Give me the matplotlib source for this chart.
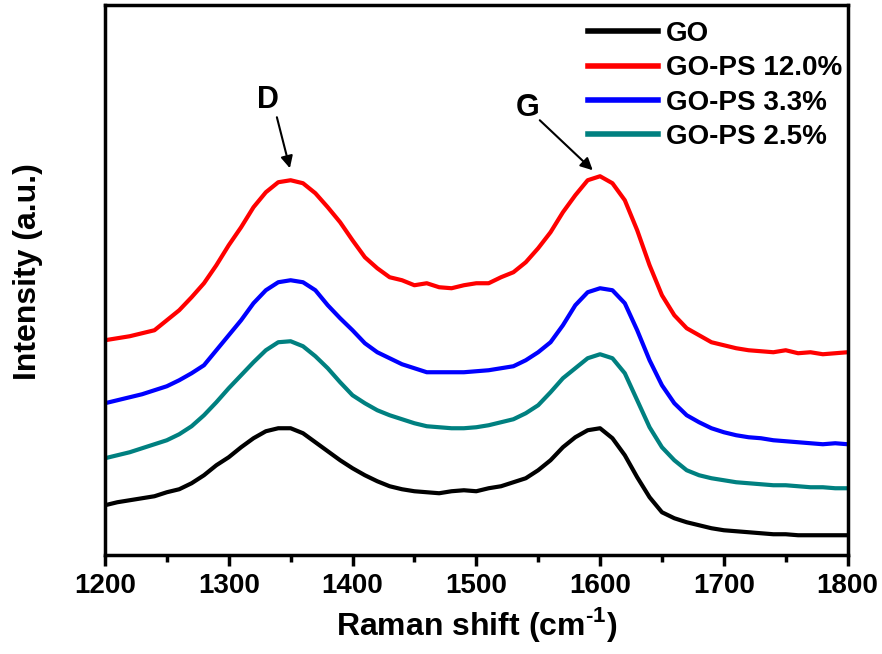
import numpy as np
import matplotlib
matplotlib.use('Agg')
from matplotlib import pyplot as plt

plt.rcParams['font.family'] = ['Liberation Sans', 'DejaVu Sans']
plt.rcParams['font.weight'] = 'bold'
plt.rcParams['mathtext.fontset'] = 'custom'
plt.rcParams['mathtext.bf'] = 'Liberation Sans:bold'
plt.rcParams['mathtext.rm'] = 'Liberation Sans:bold'

# Raman shift (cm^-1), one point every 10
shift = np.arange(1200, 1801, 10)

# intensities (arbitrary units, stacked)
go = [50, 53, 55, 57, 59, 63, 66, 72, 80, 90,
      98, 108, 117, 124, 127, 127, 122, 113, 104, 95,
      87, 80, 74, 69, 66, 64, 63, 62, 64, 65,
      64, 67, 69, 73, 77, 85, 95, 108, 118, 125,
      127, 117, 100, 78, 58, 43, 37, 33, 30, 27,
      25, 24, 23, 22, 21, 21, 20, 20, 20, 20, 20]
go_ps_12 = [215, 217, 219, 222, 225, 235, 245, 258, 272, 290,
            310, 328, 348, 363, 373, 375, 372, 362, 348, 333,
            315, 298, 287, 278, 275, 270, 272, 268, 267, 270,
            272, 272, 278, 283, 293, 307, 323, 343, 360, 375,
            379, 372, 355, 325, 290, 260, 240, 227, 220, 213,
            210, 207, 205, 204, 203, 205, 202, 203, 201, 202, 203]
go_ps_33 = [152, 155, 158, 161, 165, 169, 175, 182, 190, 205,
            220, 235, 252, 265, 273, 275, 273, 265, 250, 237,
            225, 212, 203, 197, 191, 187, 183, 183, 183, 183,
            184, 185, 187, 189, 195, 203, 213, 230, 250, 263,
            267, 265, 252, 225, 195, 170, 152, 140, 133, 127,
            123, 120, 118, 117, 115, 114, 113, 112, 111, 112, 111]
go_ps_25 = [97, 100, 103, 107, 111, 115, 121, 129, 140, 153,
            167, 180, 193, 205, 213, 214, 209, 199, 187, 173,
            160, 152, 145, 140, 136, 132, 129, 128, 127, 127,
            128, 130, 133, 136, 142, 150, 163, 177, 187, 197,
            201, 197, 182, 155, 128, 108, 95, 85, 80, 77,
            75, 73, 72, 71, 70, 70, 69, 68, 68, 67, 67]

labels = ['GO', 'GO-PS 12.0%', 'GO-PS 3.3%', 'GO-PS 2.5%']
colors = ['black', '#ff0000', '#0000ff', '#008080']
series = [go, go_ps_12, go_ps_33, go_ps_25]

fig = plt.figure(figsize=(8.82, 6.54), dpi=100)
ax = fig.add_axes([0.119, 0.151, 0.842, 0.841])

for ys, col, lab in zip(series, colors, labels):
    ax.plot(shift, ys, color=col, lw=3, label=lab)

ax.set_xlim(1200, 1800)
ax.set_ylim(0, 550)
ax.set_yticks([])
ax.set_xticks(np.arange(1200, 1801, 100))
ax.set_xticks(np.arange(1250, 1800, 100), minor=True)
ax.tick_params(axis='x', which='major', direction='out', length=8, width=2.5,
               labelsize=20, pad=5)
ax.tick_params(axis='x', which='minor', direction='out', length=5, width=2.5)
for sp in ax.spines.values():
    sp.set_linewidth(2.5)

ax.set_xlabel('Raman shift (cm$^{\\text{-}1}$)', fontsize=23, fontweight='bold', labelpad=4)
ax.set_ylabel('Intensity (a.u.)', fontsize=23, fontweight='bold')
ax.yaxis.set_label_coords(-0.084, 0.516)

# peak markers
ax.text(1331.6, 440, 'D', fontsize=22, fontweight='bold', ha='center', va='bottom')
ax.annotate('', xy=(1349.4, 387), xytext=(1338.9, 438),
            arrowprops=dict(arrowstyle='-|>', lw=1.5, color='black', mutation_scale=18,
                            shrinkA=0, shrinkB=0))
ax.text(1541.6, 432, 'G', fontsize=22, fontweight='bold', ha='center', va='bottom')
ax.annotate('', xy=(1594.1, 385), xytext=(1551.3, 435),
            arrowprops=dict(arrowstyle='-|>', lw=1.5, color='black', mutation_scale=18,
                            shrinkA=0, shrinkB=0))

leg = fig.legend(loc='upper left', bbox_to_anchor=(0.667, 0.968), frameon=False,
                 fontsize=20, handlelength=2.5, handletextpad=0.3, borderpad=0,
                 borderaxespad=0, labelspacing=0.3)
for ln in leg.get_lines():
    ln.set_linewidth(4)

fig.savefig('out.png', dpi=100)
